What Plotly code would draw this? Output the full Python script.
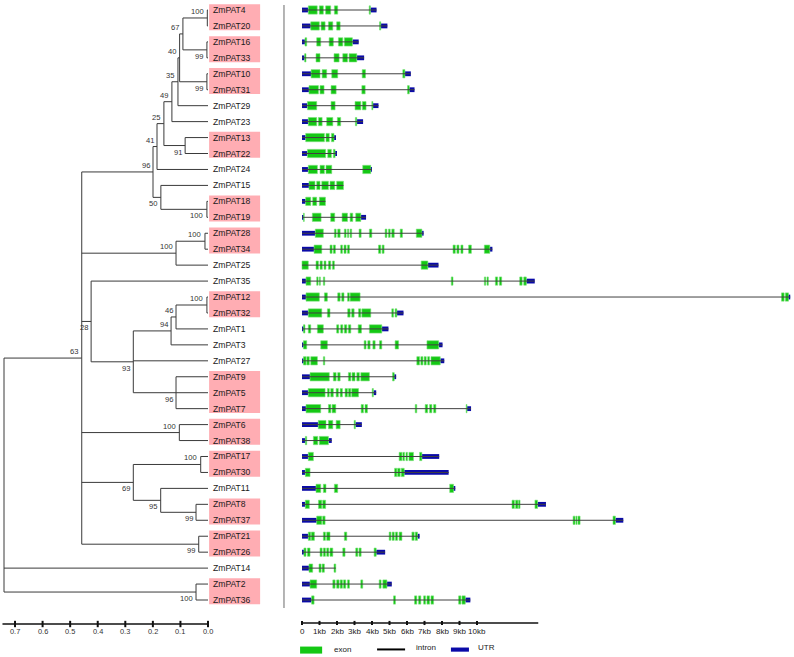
import plotly.graph_objects as go

# ---------------- data ----------------
leaves = ["ZmPAT4", "ZmPAT20", "ZmPAT16", "ZmPAT33", "ZmPAT10", "ZmPAT31", "ZmPAT29", "ZmPAT23",
          "ZmPAT13", "ZmPAT22", "ZmPAT24", "ZmPAT15", "ZmPAT18", "ZmPAT19", "ZmPAT28", "ZmPAT34",
          "ZmPAT25", "ZmPAT35", "ZmPAT12", "ZmPAT32", "ZmPAT1", "ZmPAT3", "ZmPAT27", "ZmPAT9",
          "ZmPAT5", "ZmPAT7", "ZmPAT6", "ZmPAT38", "ZmPAT17", "ZmPAT30", "ZmPAT11", "ZmPAT8",
          "ZmPAT37", "ZmPAT21", "ZmPAT26", "ZmPAT14", "ZmPAT2", "ZmPAT36"]

leaf_parent = ["a", "a", "b", "b", "c", "c", "n35", "n49", "d", "d", "n41", "n50", "e", "e", "f", "f",
               "n100", "n28", "g", "g", "n46", "n94", "n93", "h", "h", "h", "i", "i", "j", "j", "n95",
               "k", "k", "l", "l", "root", "m", "m"]

node_ids = ["root", "n63", "n96", "n41", "n25", "n49", "n35", "n40", "n67", "a", "b", "c", "d", "n50", "e",
            "n100", "f", "n28", "n93", "n94", "n46", "g", "h", "i", "n69", "j", "n95", "k", "l", "m"]
node_parent = [None, "root", "n63", "n96", "n41", "n25", "n49", "n35", "n40", "n67", "n67", "n40", "n25",
               "n96", "n50", "n63", "n100", "n63", "n28", "n93", "n94", "n46", "n93", "n63", "n63", "n69",
               "n69", "n95", "n63", "root"]
node_height = [0.740, 0.458, 0.1995, 0.185, 0.160, 0.131, 0.109, 0.103, 0.091, 0.0025, 0.004, 0.004, 0.083,
               0.171, 0.004, 0.116, 0.011, 0.424, 0.271, 0.134, 0.116, 0.004, 0.116, 0.104, 0.271, 0.0265,
               0.1716, 0.0435, 0.0337, 0.0435]
node_support = [None, 63, 96, 41, 25, 49, 35, 40, 67, 100, 99, 99, 91, 50, 100, 100, 100, 28, 93, 94, 46,
                100, 96, 100, 69, 100, 95, 99, 99, 100]
node_label_side = [0, 1, 1, 1, 1, 1, 1, 1, 1, 1, -1, -1, -1, -1, -1, 1, 1, -1, -1, 1, 1, 1, -1, 1, -1, 1,
                   -1, -1, -1, -1]

highlight_groups = [["ZmPAT4", "ZmPAT20"], ["ZmPAT16", "ZmPAT33"], ["ZmPAT10", "ZmPAT31"],
                    ["ZmPAT13", "ZmPAT22"], ["ZmPAT18", "ZmPAT19"], ["ZmPAT28", "ZmPAT34"],
                    ["ZmPAT12", "ZmPAT32"], ["ZmPAT9", "ZmPAT5", "ZmPAT7"], ["ZmPAT6", "ZmPAT38"],
                    ["ZmPAT17", "ZmPAT30"], ["ZmPAT8", "ZmPAT37"], ["ZmPAT21", "ZmPAT26"],
                    ["ZmPAT2", "ZmPAT36"]]

tree_ticks = [0.7, 0.6, 0.5, 0.4, 0.3, 0.2, 0.1, 0.0]
tree_tick_labels = ["0.7", "0.6", "0.5", "0.4", "0.3", "0.2", "0.1", "0.0"]
gene_ticks = [0, 1, 2, 3, 4, 5, 6, 7, 8, 9, 10]
gene_tick_labels = ["0", "1kb", "2kb", "3kb", "4kb", "5kb", "6kb", "7kb", "8kb", "9kb", "10kb"]

# gene structures (kb), in leaf order
utr5 = [(0, 0.36), (0, 0.5), (0, 0.17), (0, 0.15), (0, 0.52), (0, 0.4), (0, 0.31), (0, 0.36),
        (0, 0.21), (0, 0.31), (0, 0.36), (0, 0.4), (0, 0.21), (0, 0.08), (0, 0.76), (0, 0.69),
        None, (0, 0.23), (0, 0.23), (0, 0.36), (0, 0.08), (0, 0.08), (0, 0.08), (0, 0.46),
        (0, 0.36), (0, 0.23), (0, 0.93), (0, 0.19), (0, 0.36), (0, 0.19), (0, 0.8), (0, 0.19),
        (0, 0.84), (0, 0.36), (0, 0.11), (0, 0.4), (0, 0.46), (0, 0.55)]
utr3 = [(3.91, 4.26), (4.5, 4.88), (2.88, 3.24), (3.13, 3.55), (5.88, 6.22), (6.13, 6.43), (4.05, 4.37),
        (3.13, 3.49), (1.83, 1.93), (1.89, 1.98), (3.93, 4.0), None, None, (3.36, 3.66), (6.85, 6.95),
        (10.73, 10.88), (7.19, 7.8), (12.82, 13.3), (27.8, 27.9), (5.42, 5.8), (4.56, 4.94),
        (7.81, 8.03), (7.9, 8.13), (5.27, 5.38), (4.08, 4.24), (9.43, 9.66), (3.05, 3.42),
        (1.51, 1.7), (6.85, 7.84), (5.84, 8.38), (8.66, 8.76), (13.46, 13.94), (17.91, 18.36),
        (6.6, 6.72), (4.24, 4.75), None, (4.85, 5.13), (9.33, 9.62)]
exons = [
    [(0.36, 0.87), (0.99, 1.22), (1.35, 1.64), (1.85, 2.04), (3.84, 3.91)],
    [(0.5, 0.99), (1.09, 1.32), (1.51, 1.76), (1.98, 2.18), (4.43, 4.5)],
    [(0.17, 0.27), (0.84, 1.07), (1.55, 1.79), (2.08, 2.33), (2.42, 2.88)],
    [(0.15, 0.23), (0.8, 1.03), (1.83, 2.12), (2.33, 2.6), (2.69, 3.13)],
    [(0.52, 1.03), (1.15, 1.41), (1.7, 2.04), (3.44, 3.63), (5.76, 5.88)],
    [(0.4, 0.94), (1.03, 1.26), (1.66, 1.95), (3.42, 3.61), (6.03, 6.13)],
    [(0.31, 0.84), (1.66, 1.89), (3.03, 3.36), (3.45, 3.66), (3.99, 4.05)],
    [(0.36, 0.84), (0.94, 1.15), (1.41, 1.76), (2.02, 2.21), (3.05, 3.13)],
    [(0.21, 1.28), (1.37, 1.56), (1.68, 1.83)],
    [(0.31, 1.35), (1.47, 1.68), (1.79, 1.89)],
    [(0.36, 0.88), (1.03, 1.28), (1.37, 1.7), (3.47, 3.93)],
    [(0.4, 0.74), (0.84, 1.03), (1.13, 1.51), (1.6, 1.87), (1.98, 2.37)],
    [(0.21, 0.5), (0.61, 0.84), (0.99, 1.34)],
    [(0.08, 0.13), (0.59, 1.09), (1.64, 1.87), (2.29, 2.6), (2.75, 2.9), (3.07, 3.36)],
    [(0.76, 1.22), (1.85, 1.95), (2.04, 2.18), (2.42, 2.52), (2.6, 2.67), (2.75, 2.84), (3.26, 3.38),
     (3.85, 3.99), (4.75, 4.85), (4.94, 5.04), (5.13, 5.27), (5.61, 5.74), (6.53, 6.85)],
    [(0.69, 1.13), (1.6, 1.72), (1.79, 1.91), (2.21, 2.31), (2.4, 2.52), (2.6, 2.71), (4.37, 4.5),
     (4.58, 4.69), (8.63, 8.76), (8.85, 8.97), (9.08, 9.2), (9.52, 9.68), (10.42, 10.73)],
    [(0, 0.36), (0.8, 0.94), (1.03, 1.16), (1.26, 1.37), (1.51, 1.64), (1.74, 1.85), (6.81, 7.19)],
    [(0.23, 0.5), (0.84, 0.92), (0.99, 1.05), (1.22, 1.3), (8.53, 8.63), (10.42, 10.5), (10.57, 10.65),
     (11.05, 11.18), (11.28, 11.41), (12.44, 12.58), (12.67, 12.82)],
    [(0.23, 0.99), (1.28, 1.45), (2.04, 2.18), (2.27, 2.4), (2.6, 2.71), (2.75, 3.32), (27.4, 27.55),
     (27.62, 27.8)],
    [(0.36, 1.13), (1.45, 1.6), (2.61, 2.75), (2.84, 2.98), (3.23, 3.36), (3.42, 3.93), (5.13, 5.23),
     (5.32, 5.42)],
    [(0.08, 0.17), (0.36, 0.5), (0.88, 1.22), (1.98, 2.1), (2.21, 2.33), (2.42, 2.56), (2.65, 2.79),
     (3.21, 3.4), (3.85, 4.56)],
    [(0.08, 0.27), (1.07, 1.45), (3.55, 3.66), (3.76, 3.89), (4.05, 4.18), (4.43, 4.56), (5.32, 5.52),
     (7.14, 7.81)],
    [(0.08, 0.23), (0.27, 0.42), (0.5, 0.88), (1.22, 1.3), (6.56, 6.72), (6.79, 6.91), (6.98, 7.1),
     (7.18, 7.29), (7.37, 7.9)],
    [(0.46, 1.56), (1.79, 1.95), (2.04, 2.18), (2.65, 2.79), (2.86, 3.03), (3.13, 3.28), (3.36, 3.85),
     (5.17, 5.27)],
    [(0.36, 1.32), (1.45, 1.56), (1.64, 1.79), (1.95, 2.08), (2.18, 2.31), (2.46, 2.6), (2.65, 2.79),
     (2.84, 3.23), (4.01, 4.08)],
    [(0.23, 1.07), (1.51, 1.65), (1.72, 1.93), (3.38, 3.51), (3.6, 3.74), (6.47, 6.56), (7.04, 7.18),
     (7.29, 7.42), (7.52, 7.65), (9.38, 9.43)],
    [(0.93, 1.37), (1.51, 1.76), (1.95, 2.18), (2.98, 3.05)],
    [(0.19, 0.27), (0.65, 0.9), (0.99, 1.51)],
    [(0.36, 0.65), (5.55, 5.71), (5.76, 5.86), (5.94, 6.03), (6.11, 6.37), (6.72, 6.85)],
    [(0.19, 0.46), (5.29, 5.42), (5.46, 5.61), (5.67, 5.84)],
    [(0.8, 1.07), (1.22, 1.37), (1.85, 2.04), (8.44, 8.66)],
    [(0.19, 0.42), (0.94, 1.13), (1.18, 1.35), (12.0, 12.14), (12.2, 12.34), (12.37, 12.46),
     (13.31, 13.46)],
    [(0.84, 1.13), (1.18, 1.32), (15.49, 15.6), (15.65, 15.72), (15.77, 15.89), (17.77, 17.91)],
    [(0.36, 0.5), (0.53, 0.71), (1.22, 1.34), (1.41, 1.6), (2.42, 2.56), (4.98, 5.08), (5.15, 5.27),
     (5.34, 5.46), (5.55, 5.71), (6.28, 6.41), (6.47, 6.6)],
    [(0.11, 0.23), (0.31, 0.46), (1.03, 1.15), (1.22, 1.34), (1.41, 1.53), (1.6, 1.76), (2.33, 2.46),
     (3.07, 3.19), (3.26, 3.38), (4.12, 4.24)],
    [(0.4, 0.61), (0.97, 1.09), (1.15, 1.28), (1.83, 1.93)],
    [(0.46, 0.84), (1.76, 1.89), (1.98, 2.12), (2.18, 2.31), (2.37, 2.5), (2.6, 2.71), (3.36, 3.47),
     (4.41, 4.52), (4.62, 4.85)],
    [(0.55, 0.69), (5.23, 5.34), (6.43, 6.56), (6.66, 6.79), (6.95, 7.06), (7.14, 7.29), (7.37, 7.52),
     (8.95, 9.08), (9.14, 9.33)],
]

# ---------------- layout constants ----------------
FONT = "Liberation Sans, Arial, sans-serif"
TREE_RANGE = [0.7545, -2.1255]
GENE_RANGE = [-17.257, 28.114]
Y_RANGE = [41.574, 0.373]
LINE_COL = "#3a3a3a"
PINK = "#FFADB3"
GREEN = "#14C814"
BLUE = "#0A0AA8"

# ---------------- tree geometry ----------------
leaf_y = {name: i + 1 for i, name in enumerate(leaves)}
height = dict(zip(node_ids, node_height))
children = {nid: [] for nid in node_ids}
for i, p in enumerate(leaf_parent):
    children[p].append(("leaf", leaves[i]))
for nid, p in zip(node_ids, node_parent):
    if p is not None:
        children[p].append(("node", nid))

node_y = {}


def get_y(kind, key):
    if kind == "leaf":
        return leaf_y[key]
    if key in node_y:
        return node_y[key]
    ys = [get_y(k, c) for k, c in children[key]]
    node_y[key] = (min(ys) + max(ys)) / 2
    return node_y[key]


for nid in node_ids:
    get_y("node", nid)

tx, ty = [], []
for nid in node_ids:
    cys = [get_y(k, c) for k, c in children[nid]]
    tx += [height[nid], height[nid], None]
    ty += [min(cys), max(cys), None]
    for k, c in children[nid]:
        cx = 0.0 if k == "leaf" else height[c]
        cy = get_y(k, c)
        tx += [height[nid], cx, None]
        ty += [cy, cy, None]

fig = go.Figure()
fig.add_trace(go.Scatter(x=tx, y=ty, mode="lines", line=dict(color=LINE_COL, width=1),
                         hoverinfo="skip", showlegend=False, xaxis="x", yaxis="y"))

# ---------------- gene structures ----------------
ix, iy = [], []
for i in range(len(leaves)):
    pts = [s for s, e in exons[i]] + [e for s, e in exons[i]]
    if utr5[i]:
        pts += list(utr5[i])
    if utr3[i]:
        pts += list(utr3[i])
    ix += [min(pts), max(pts), None]
    iy += [i + 1, i + 1, None]
fig.add_trace(go.Scatter(x=ix, y=iy, mode="lines", line=dict(color="#404040", width=1),
                         hoverinfo="skip", showlegend=False, xaxis="x2", yaxis="y"))

ux, ub, uy = [], [], []
for i in range(len(leaves)):
    for u in (utr5[i], utr3[i]):
        if u:
            ub.append(u[0]); ux.append(u[1] - u[0]); uy.append(i + 1)
fig.add_trace(go.Bar(x=ux, base=ub, y=uy, orientation="h", width=0.3,
                     marker=dict(color=BLUE, line=dict(width=0)), hoverinfo="skip",
                     showlegend=False, xaxis="x2", yaxis="y"))

ex, eb, ey = [], [], []
for i in range(len(leaves)):
    for s, e in exons[i]:
        eb.append(s); ex.append(e - s); ey.append(i + 1)
fig.add_trace(go.Bar(x=ex, base=eb, y=ey, orientation="h", width=0.52,
                     marker=dict(color=GREEN, line=dict(width=0.6, color="#7BE07B")), hoverinfo="skip",
                     showlegend=False, xaxis="x2", yaxis="y"))

shapes = []
annotations = []

# pink highlight boxes
for grp in highlight_groups:
    ys = [leaf_y[g] for g in grp]
    shapes.append(dict(type="rect", xref="x", yref="y", x0=-0.004, x1=-0.189,
                       y0=min(ys) - 0.36, y1=max(ys) + 0.27, fillcolor=PINK,
                       line=dict(width=0), layer="below"))

# leaf labels
for name in leaves:
    annotations.append(dict(x=0, y=leaf_y[name], xref="x", yref="y", text=name, showarrow=False,
                            xanchor="left", yanchor="middle", xshift=3,
                            font=dict(family=FONT, size=8.6, color="#1a1a1a")))

# bootstrap values
for nid, sup, side in zip(node_ids, node_support, node_label_side):
    if sup is None:
        continue
    annotations.append(dict(x=height[nid], y=node_y[nid], xref="x", yref="y", text=str(sup),
                            showarrow=False, xanchor="right", yanchor="middle", xshift=-1.5,
                            yshift=6.5 * side, font=dict(family=FONT, size=7.6, color="#333333")))

# divider
shapes.append(dict(type="line", xref="x2", yref="y", x0=-1.03, x1=-1.03, y0=0.69, y1=38.5,
                   line=dict(color="#8c8c8c", width=1.3)))

# tree scale bar
SB_Y = 39.505
shapes.append(dict(type="line", xref="x", yref="y", x0=0.7455, x1=0.0, y0=SB_Y, y1=SB_Y,
                   line=dict(color="#111111", width=1.6)))
for t, lab in zip(tree_ticks, tree_tick_labels):
    shapes.append(dict(type="line", xref="x", yref="y", x0=t, x1=t, y0=SB_Y - 0.2, y1=SB_Y + 0.2,
                       line=dict(color="#111111", width=2)))
    annotations.append(dict(x=t, y=40.0, xref="x", yref="y", text=lab, showarrow=False,
                            xanchor="center", yanchor="middle",
                            font=dict(family=FONT, size=7.4, color="#333333")))

# gene scale bar
GB_Y = 39.44
shapes.append(dict(type="line", xref="x2", yref="y", x0=0, x1=13.5, y0=GB_Y, y1=GB_Y,
                   line=dict(color="#111111", width=1.6)))
for t, lab in zip(gene_ticks, gene_tick_labels):
    shapes.append(dict(type="line", xref="x2", yref="y", x0=t, x1=t, y0=GB_Y - 0.13, y1=GB_Y + 0.13,
                       line=dict(color="#111111", width=2)))
    annotations.append(dict(x=t, y=40.0, xref="x2", yref="y", text=lab, showarrow=False,
                            xanchor="center", yanchor="middle",
                            font=dict(family=FONT, size=8, color="#222222")))

# legend
shapes.append(dict(type="rect", xref="x2", yref="y", x0=-0.11, x1=1.15, y0=40.92, y1=41.36,
                   fillcolor=GREEN, line=dict(width=0)))
annotations.append(dict(x=1.71, y=41.1, xref="x2", yref="y", text="exon", showarrow=False,
                        xanchor="left", yanchor="middle", font=dict(family=FONT, size=8, color="#222222")))
shapes.append(dict(type="line", xref="x2", yref="y", x0=4.29, x1=5.89, y0=41.1, y1=41.1,
                   line=dict(color="#000000", width=2)))
annotations.append(dict(x=6.4, y=41.0, xref="x2", yref="y", text="intron", showarrow=False,
                        xanchor="left", yanchor="middle", font=dict(family=FONT, size=8, color="#222222")))
shapes.append(dict(type="rect", xref="x2", yref="y", x0=8.51, x1=9.54, y0=40.98, y1=41.24,
                   fillcolor=BLUE, line=dict(width=0)))
annotations.append(dict(x=9.94, y=41.0, xref="x2", yref="y", text="UTR", showarrow=False,
                        xanchor="left", yanchor="middle", font=dict(family=FONT, size=8, color="#222222")))

axis_off = dict(visible=False, showgrid=False, zeroline=False, fixedrange=True)
fig.update_layout(
    width=794, height=657, margin=dict(l=0, r=0, t=0, b=0),
    paper_bgcolor="white", plot_bgcolor="white", barmode="overlay", showlegend=False,
    xaxis=dict(range=TREE_RANGE, domain=[0, 1], anchor="y", **axis_off),
    xaxis2=dict(range=GENE_RANGE, domain=[0, 1], anchor="y", overlaying="x", **axis_off),
    yaxis=dict(range=Y_RANGE, domain=[0, 1], **axis_off),
    shapes=shapes, annotations=annotations,
)

fig.write_html("out.html", config={"displayModeBar": False},
               post_script="document.body.style.margin='0';document.body.style.overflow='hidden';")
